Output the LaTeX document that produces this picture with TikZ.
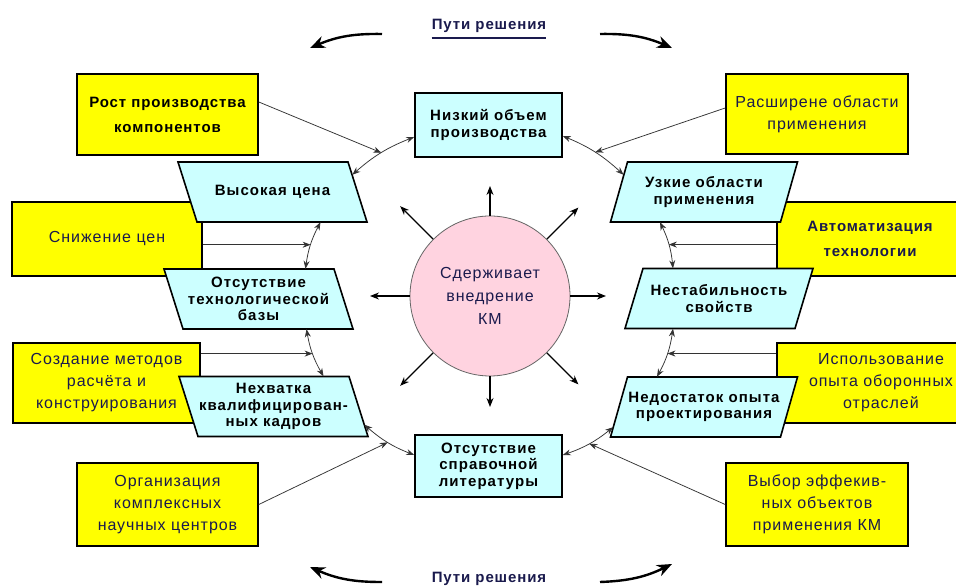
\documentclass[tikz,border=0pt]{standalone}
\usepackage{fontspec}
\setmainfont{Liberation Sans}
\newfontfamily\ysans[LetterSpace=6]{Liberation Sans}
\newfontfamily\csans[LetterSpace=7]{Liberation Sans}
\usetikzlibrary{arrows.meta,calc}
\definecolor{yel}{HTML}{FFFF00}
\definecolor{cyanc}{HTML}{CCFFFF}
\definecolor{pinkc}{HTML}{FFD3E0}
\definecolor{txtnavy}{HTML}{1A1A4D}
\definecolor{linegray}{HTML}{333333}
\newcommand\plg[4]{%
  \pgfmathsetmacro\plgA{-85-(#3)}\pgfmathsetmacro\plgB{85-(#3)}%
  \pgfmathsetmacro\plgC{85+(#3)}\pgfmathsetmacro\plgD{-85+(#3)}%
  \filldraw[cshape] ($(#2)+(\plgA,30)$) -- ($(#2)+(\plgB,30)$) -- ($(#2)+(\plgC,-30)$) -- ($(#2)+(\plgD,-30)$) -- cycle;
  \node[ctext] (#1) at (#2) {#4};}
\begin{document}
\begin{tikzpicture}[x=1pt,y=1pt,
  ybox/.style={draw=black, line width=1.6pt, fill=yel, align=center, text=txtnavy, font=\ysans\fontsize{16}{22}\selectfont, inner sep=0pt},
  ybold/.style={font=\ysans\fontsize{15}{25}\selectfont\bfseries},
  cshape/.style={draw=black, line width=1.6pt, fill=cyanc},
  ctext/.style={align=center, text=black, font=\csans\fontsize{15}{16.5}\selectfont\bfseries, inner sep=0pt, minimum width=170, minimum height=60},
  link/.style={draw=linegray, line width=0.75pt, -{Stealth[length=8pt,width=6pt]}},
  dlink/.style={draw=linegray, line width=0.75pt, {Stealth[length=8pt,width=6pt]}-{Stealth[length=8pt,width=6pt]}, bend left=10},
  spoke/.style={draw=black, line width=1.1pt, -{Stealth[length=9pt,width=7pt]}},
  bigarrow/.style={draw=black, line width=2.4pt, -{Stealth[length=15pt,width=12pt]}},
  ttl/.style={font=\ysans\fontsize{15}{18}\selectfont\bfseries, text=txtnavy, inner sep=0pt, anchor=base}]
\useasboundingbox (0,0) rectangle (956,588);
\clip (0,0) rectangle (956,588);
\fill[white] (0,0) rectangle (956,588);

% titles
\node[ttl] (ttop) at (489,558) {Пути решения};
\draw[txtnavy, line width=2pt] ([yshift=-8]ttop.base west) -- ([yshift=-8]ttop.base east);
\node[ttl] (tbot) at (489,5) {Пути решения};

% big curved arrows
\coordinate (t1s) at (382,554); \coordinate (t1e) at (310,540);
\coordinate (t2s) at (600,554); \coordinate (t2e) at (672,540);
\coordinate (b1s) at (382,6);   \coordinate (b1e) at (310,21);
\coordinate (b2s) at (600,6);   \coordinate (b2e) at (672,24);
\draw[bigarrow] (t1s) to[bend right=12] (t1e);
\draw[bigarrow] (t2s) to[bend left=12] (t2e);
\draw[bigarrow] (b1s) to[bend left=12] (b1e);
\draw[bigarrow] (b2s) to[bend right=12] (b2e);

% yellow boxes
\node[ybox, ybold, text=black, minimum width=181, minimum height=81] (rost) at (167.5,473.5) {Рост производства\\компонентов};
\node[ybox, minimum width=190, minimum height=74] (sniz) at (107,349) {Снижение цен};
\node[ybox, minimum width=187, minimum height=80] (sozd) at (106.5,205) {Создание методов\\расчёта и\\конструирования};
\node[ybox, minimum width=181, minimum height=83] (org) at (167.5,83.5) {Организация\\комплексных\\научных центров};
\node[ybox, minimum width=182, minimum height=80] (rasch) at (817,474) {Расширене области\\применения};
\node[ybox, ybold, minimum width=186, minimum height=74] (avt) at (870,349) {Автоматизация\\технологии};
\node[ybox, minimum width=208, minimum height=80] (isp) at (881,205) {Использование\\опыта оборонных\\отраслей};
\node[ybox, minimum width=182, minimum height=83] (vyb) at (817,83.5) {Выбор эффекив-\\ных объектов\\применения КМ};

% cyan boxes
\node[cshape, ctext, minimum width=147, minimum height=64] (niz) at (488.5,463) {Низкий объем\\производства};
\node[cshape, ctext, minimum width=147, minimum height=62] (spr) at (488.5,122) {Отсутствие\\справочной\\литературы};
\plg{vys}{272.5,396}{9.5}{Высокая цена}
\plg{ott}{258.5,289}{9.5}{Отсутствие\\технологической\\базы}
\plg{neh}{273.5,181.5}{9.5}{Нехватка\\квалифицирован-\\ных кадров}
\plg{uzk}{704,396}{-8.5}{Узкие области\\применения}
\plg{nest}{719,289.5}{-9}{Нестабильность\\свойств}
\plg{ned}{704,181}{-8.5}{Недостаток опыта\\проектирования}

% centre
\node[circle, draw=black!60, line width=0.8pt, fill=pinkc, minimum size=160, inner sep=0pt, align=center, text=txtnavy, font=\ysans\fontsize{16}{23}\selectfont] (core) at (490,292) {Сдерживает\\внедрение\\КМ};
\foreach \a/\r in {0/116,45/125,90/110,135/127,180/120,225/127,270/111,315/125}{
  \coordinate (sp\a) at ($(core.center)+(\a:\r)$);
  \draw[spoke] (core.\a) -- (sp\a);
}

% arcs between problems
\draw[dlink] ([yshift=11]spr.west) to node[coordinate,pos=.5] (ma) {} ([shift={(5.7,12)}]neh.south east);
\draw[dlink] ([xshift=50]neh.north) to node[coordinate,pos=.5] (mb) {} ([xshift=48]ott.south);
\draw[dlink] ([xshift=47]ott.north) to node[coordinate,pos=.5] (mc) {} ([xshift=48]vys.south);
\draw[dlink] ([shift={(-5.4,-13)}]vys.north east) to node[coordinate,pos=.5] (md) {} ([yshift=-12]niz.west);
\draw[dlink] ([yshift=-11]niz.east) to node[coordinate,pos=.5] (me) {} ([shift={(4.8,-13)}]uzk.north west);
\draw[dlink] ([xshift=-44]uzk.south) to node[coordinate,pos=.5] (mf) {} ([xshift=-46]nest.north);
\draw[dlink] ([xshift=-46]nest.south) to node[coordinate,pos=.5] (mg) {} ([xshift=-47]ned.north);
\draw[dlink] ([shift={(-5.7,10)}]ned.south west) to node[coordinate,pos=.5] (mh) {} ([yshift=11]spr.east);

% solutions to problems
\draw[link] ([yshift=12.5]rost.east) -- (md);
\draw[link] (sniz.east |- mc) -- (mc);
\draw[link] (sozd.east |- mb) -- (mb);
\draw[link] (org.east) -- (ma);
\draw[link] ([yshift=6]rasch.west) -- (me);
\draw[link] (avt.west |- mf) -- (mf);
\draw[link] (isp.west |- mg) -- (mg);
\draw[link] (vyb.west) -- (mh);
\end{tikzpicture}
\end{document}
